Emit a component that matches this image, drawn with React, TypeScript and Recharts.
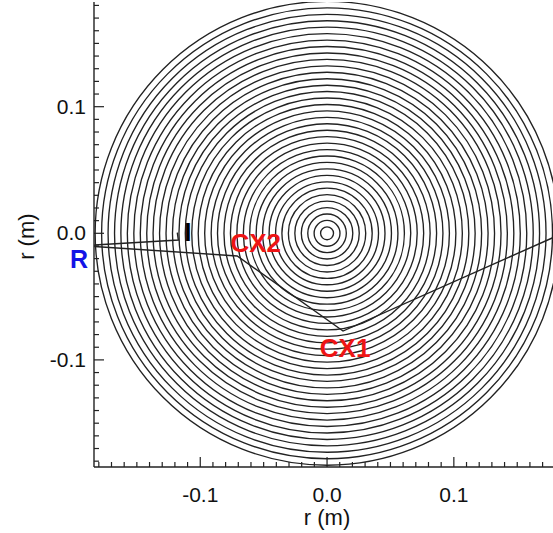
import React from 'react';
import { ComposedChart, XAxis, YAxis, Line, Scatter, ReferenceDot } from 'recharts';

// ---- data (metres) ----
const RING_RADII = [
  0.0051, 0.0102, 0.0152, 0.0203, 0.0254, 0.0305, 0.0356, 0.0406, 0.0457, 0.0508,
  0.0559, 0.061, 0.066, 0.0711, 0.0762, 0.0813, 0.0864, 0.0914, 0.0965, 0.1016,
  0.1067, 0.1118, 0.1168, 0.1219, 0.127, 0.1321, 0.1372, 0.1422, 0.1473, 0.1524,
  0.1575, 0.1626, 0.1676, 0.1727, 0.1778, 0.1829,
];
const RING_CENTER_X = 0;
const RING_CENTER_Y = 0;

const PATH_I = [
  { x: -0.1835, y: -0.0092 },
  { x: -0.1173, y: -0.0053 },
  { x: -0.1181, y: 0.0006 },
];
const PATH_CX = [
  { x: -0.1835, y: -0.0104 },
  { x: -0.0709, y: -0.0179 },
  { x: 0.0126, y: -0.0772 },
  { x: 0.178, y: -0.0035 },
];

const LABEL_TEXTS = ['R', 'I', 'CX2', 'CX1'];
const LABEL_X = [-0.1957, -0.1098, -0.0563, 0.0142];
const LABEL_Y = [-0.0272, -0.0061, -0.0148, -0.0977];
const LABEL_SIZES = [25, 26, 26, 26];
const LABEL_COLORS = ['#1414e6', '#000000', '#ee1414', '#ee1414'];

const X_TICKS = [
  -0.18, -0.17, -0.16, -0.15, -0.14, -0.13, -0.12, -0.11, -0.1, -0.09, -0.08, -0.07,
  -0.06, -0.05, -0.04, -0.03, -0.02, -0.01, 0, 0.01, 0.02, 0.03, 0.04, 0.05, 0.06,
  0.07, 0.08, 0.09, 0.1, 0.11, 0.12, 0.13, 0.14, 0.15, 0.16, 0.17,
];
const Y_TICKS = [
  -0.18, -0.17, -0.16, -0.15, -0.14, -0.13, -0.12, -0.11, -0.1, -0.09, -0.08, -0.07,
  -0.06, -0.05, -0.04, -0.03, -0.02, -0.01, 0, 0.01, 0.02, 0.03, 0.04, 0.05, 0.06,
  0.07, 0.08, 0.09, 0.1, 0.11, 0.12, 0.13, 0.14, 0.15, 0.16, 0.17, 0.18,
];
const MAJOR_TICKS = [-0.1, 0, 0.1];
const AXIS_TITLE = 'r (m)';

// ---- layout ----
const W = 553;
const H = 533;
const LEFT = 94;
const TOP = 2;
const BOTTOM_AXIS_H = 66;
const X_DOMAIN: [number, number] = [-0.1838, 0.1782];
const Y_DOMAIN: [number, number] = [-0.1846, 0.1827];
const PX_PER_M = (W - LEFT) / (X_DOMAIN[1] - X_DOMAIN[0]);
const FONT = "'Liberation Sans', Arial, Helvetica, sans-serif";
const INK = '#222222';

const isMajor = (v: number) => MAJOR_TICKS.some((m) => Math.abs(m - v) < 1e-6);
const fmt = (v: number) => (Math.abs(v) < 1e-9 ? '0.0' : v.toFixed(1));

const BottomTick = (p: any) => {
  const v = p.payload.value;
  const major = isMajor(v);
  return (
    <g>
      <line x1={p.x} y1={p.y} x2={p.x} y2={p.y - (major ? 10 : 5)} stroke={INK} strokeWidth={1.2} />
      {major && (
        <text x={p.x} y={p.y + 35} textAnchor="middle" fontSize={21} fontFamily={FONT} fill="#111">
          {fmt(v)}
        </text>
      )}
    </g>
  );
};

const TopTick = (p: any) => {
  const v = p.payload.value;
  const major = isMajor(v);
  return <line x1={p.x} y1={p.y} x2={p.x} y2={p.y + (major ? 10 : 5)} stroke={INK} strokeWidth={1.2} />;
};

const LeftTick = (p: any) => {
  const v = p.payload.value;
  const major = isMajor(v);
  return (
    <g>
      <line x1={p.x} y1={p.y} x2={p.x + (major ? 10 : 5)} y2={p.y} stroke={INK} strokeWidth={1.2} />
      {major && (
        <text x={p.x - 8} y={p.y + 7} textAnchor="end" fontSize={21} fontFamily={FONT} fill="#111">
          {fmt(v)}
        </text>
      )}
    </g>
  );
};

const ringData = RING_RADII.map((r) => ({ x: RING_CENTER_X, y: RING_CENTER_Y, r }));

const RingShape = (p: any) => (
  <circle cx={p.cx} cy={p.cy} r={p.payload.r * PX_PER_M} fill="none" stroke={INK} strokeWidth={1.35} />
);

export default function App() {
  return (
    <div style={{ position: 'absolute', left: 0, top: 0, width: W, height: H, background: '#fff', overflow: 'hidden' }}>
      <ComposedChart width={W} height={H} margin={{ top: TOP, right: 0, bottom: 0, left: 0 }}>
        <XAxis
          xAxisId="bottom"
          dataKey="x"
          type="number"
          domain={X_DOMAIN}
          allowDataOverflow
          ticks={X_TICKS}
          interval={0}
          tickSize={0}
          tickMargin={0}
          tick={BottomTick}
          height={BOTTOM_AXIS_H}
          axisLine={{ stroke: INK, strokeWidth: 1.4 }}
          label={{
            content: (lp: any) => {
              const vb = lp.viewBox || {};
              const cx = (vb.x ?? LEFT) + (0 - X_DOMAIN[0]) * PX_PER_M;
              return (
                <text x={cx} y={(vb.y ?? 467) + 58} textAnchor="middle" fontSize={22} fontFamily={FONT} fill="#111">
                  {AXIS_TITLE}
                </text>
              );
            },
          }}
        />
        <XAxis
          xAxisId="top"
          dataKey="x"
          orientation="top"
          type="number"
          domain={X_DOMAIN}
          allowDataOverflow
          ticks={X_TICKS}
          interval={0}
          tickSize={0}
          tickMargin={0}
          tick={TopTick}
          height={0}
          axisLine={{ stroke: INK, strokeWidth: 1.4 }}
        />
        <YAxis
          yAxisId="left"
          dataKey="y"
          type="number"
          domain={Y_DOMAIN}
          allowDataOverflow
          ticks={Y_TICKS}
          interval={0}
          tickSize={0}
          tickMargin={0}
          tick={LeftTick}
          width={LEFT}
          axisLine={{ stroke: INK, strokeWidth: 1.4 }}
          label={{
            content: (lp: any) => {
              const vb = lp.viewBox || {};
              const cy = (vb.y ?? TOP) + (Y_DOMAIN[1] - 0) * PX_PER_M + 3;
              return (
                <text
                  x={34}
                  y={cy}
                  transform={`rotate(-90 34 ${cy})`}
                  textAnchor="middle"
                  fontSize={22}
                  fontFamily={FONT}
                  fill="#111"
                >
                  {AXIS_TITLE}
                </text>
              );
            },
          }}
        />
        <Scatter
          xAxisId="bottom"
          yAxisId="left"
          data={ringData}
          shape={RingShape}
          isAnimationActive={false}
        />
        <Line
          xAxisId="bottom"
          yAxisId="left"
          data={PATH_I}
          dataKey="y"
          type="linear"
          stroke={INK}
          strokeWidth={1.4}
          dot={false}
          activeDot={false}
          isAnimationActive={false}
        />
        <Line
          xAxisId="bottom"
          yAxisId="left"
          data={PATH_CX}
          dataKey="y"
          type="linear"
          stroke={INK}
          strokeWidth={1.4}
          dot={false}
          activeDot={false}
          isAnimationActive={false}
        />
        {LABEL_TEXTS.map((t, i) => (
          <ReferenceDot
            key={t}
            xAxisId="bottom"
            yAxisId="left"
            x={LABEL_X[i]}
            y={LABEL_Y[i]}
            ifOverflow="visible"
            shape={(p: any) => (
              <text
                x={p.cx}
                y={p.cy}
                textAnchor="middle"
                fontSize={LABEL_SIZES[i]}
                fontWeight="bold"
                fontFamily={FONT}
                fill={LABEL_COLORS[i]}
              >
                {t}
              </text>
            )}
          />
        ))}
      </ComposedChart>
    </div>
  );
}
